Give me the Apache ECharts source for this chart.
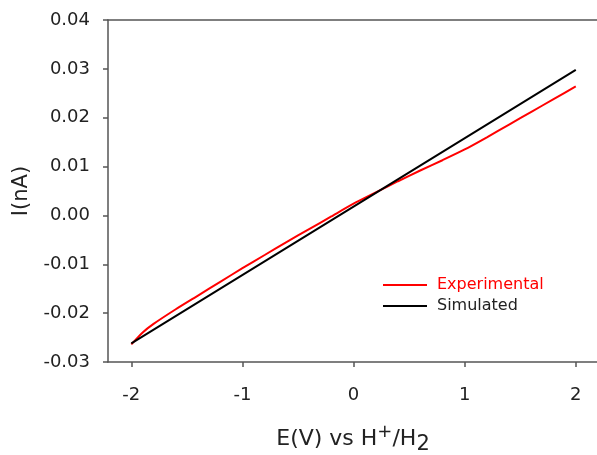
<!DOCTYPE html>
<html>
<head>
<meta charset="utf-8">
<script src="https://cdn.jsdelivr.net/npm/echarts@6/dist/echarts.min.js"></script>
<style>html,body{margin:0;padding:0;background:#fff}#c{width:597px;height:455px}</style>
</head>
<body>
<div id="c"></div>
<script>
const xTicks = [-2, -1, 0, 1, 2];
const yTicks = [-0.03, -0.02, -0.01, 0.00, 0.01, 0.02, 0.03, 0.04];
const expE = [-2, -1.9, -1.8, -1.6, -1.4, -1.2, -1.0, -0.8, -0.6, -0.4, -0.2, 0, 0.2, 0.4, 0.6, 0.8, 1.0, 1.2, 1.4, 1.6, 1.8, 2.0];
const expI = [-0.0264, -0.0240, -0.0222, -0.0192, -0.0164, -0.0136, -0.0108, -0.0081, -0.0054, -0.0028, -0.0002, 0.0024, 0.0047, 0.0070, 0.0092, 0.0113, 0.0135, 0.0160, 0.0186, 0.0212, 0.0238, 0.0264];
const simE = [-2, 2];
const simI = [-0.0262, 0.0298];
const seriesNames = ['Experimental', 'Simulated'];

const chart = echarts.init(document.getElementById('c'));
const font = 'DejaVu Sans, Liberation Sans, sans-serif';
const axisCol = '#555';
const txt = '#222';
chart.setOption({
  animation: false,
  grid: { left: 108, top: 20, width: 490, height: 342, containLabel: false, outerBoundsMode: 'none' },
  legend: {
    left: 383, top: 277, orient: 'vertical', itemWidth: 44, itemHeight: 2, itemGap: 5, padding: 0,
    icon: 'rect',
    data: seriesNames,
    textStyle: { fontFamily: font, fontSize: 16, rich: {
      r: { color: '#ff0000', fontSize: 16, fontFamily: font, padding: [0, 0, 0, 5] },
      k: { color: txt, fontSize: 16, fontFamily: font, padding: [0, 0, 0, 5] }
    } },
    formatter: n => n === 'Experimental' ? '{r|' + n + '}' : '{k|' + n + '}',
    selectedMode: false
  },
  xAxis: [{
    type: 'value', min: -2.21, max: 2.2, position: 'bottom',
    name: '{t|E(V) vs H}{sup|+}{t|/H}{sub|2}', nameLocation: 'middle', nameGap: 61,
    nameTextStyle: { fontFamily: font, rich: {
      t: { fontSize: 22, fontFamily: font, color: txt, verticalAlign: 'bottom' },
      sup: { fontSize: 18, fontFamily: font, color: txt, verticalAlign: 'bottom', padding: [0, 0, 9, 0] },
      sub: { fontSize: 21, fontFamily: font, color: txt, verticalAlign: 'bottom', padding: [0, 0, -5, 0] }
    } },
    axisLine: { show: true, onZero: false, lineStyle: { color: axisCol, width: 1.5 } },
    axisTick: { show: true, inside: false, length: 5, customValues: xTicks, lineStyle: { color: axisCol, width: 1.5 } },
    axisLabel: { customValues: xTicks, margin: 24, fontSize: 18, fontFamily: font, color: txt },
    splitLine: { show: false }
  }, {
    type: 'value', min: -2.21, max: 2.2, position: 'top',
    axisLine: { show: true, onZero: false, lineStyle: { color: axisCol, width: 1.5 } },
    axisTick: { show: false }, axisLabel: { show: false }, splitLine: { show: false }
  }],
  yAxis: {
    type: 'value', min: -0.03, max: 0.04, interval: 0.01,
    name: 'I(nA)', nameLocation: 'middle', nameGap: 76, nameRotate: 90,
    nameTextStyle: { fontFamily: font, fontSize: 21, color: txt },
    axisLine: { show: true, onZero: false, lineStyle: { color: axisCol, width: 1.5 } },
    axisTick: { show: true, inside: false, length: 5, lineStyle: { color: axisCol, width: 1.5 } },
    axisLabel: { margin: 18, fontSize: 18, fontFamily: font, color: txt, formatter: v => v.toFixed(2) },
    splitLine: { show: false }
  },
  series: [{
    name: seriesNames[0], type: 'line', showSymbol: false, smooth: 0.2,
    data: expE.map((e, i) => [e, expI[i]]),
    lineStyle: { color: '#ff0000', width: 2 }, itemStyle: { color: '#ff0000' }
  }, {
    name: seriesNames[1], type: 'line', showSymbol: false,
    data: simE.map((e, i) => [e, simI[i]]),
    lineStyle: { color: '#000000', width: 2 }, itemStyle: { color: '#000000' }
  }]
});
</script>
</body>
</html>
